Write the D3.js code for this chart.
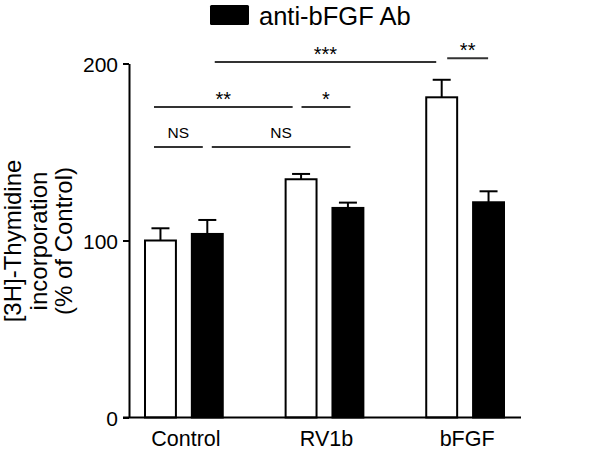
<!DOCTYPE html>
<html>
<head>
<meta charset="utf-8">
<script src="https://cdn.jsdelivr.net/npm/d3@7"></script>
<style>
  html, body { margin: 0; padding: 0; background: #fff; }
  svg { display: block; font-family: "Liberation Sans", Arial, Helvetica, sans-serif; }
</style>
</head>
<body>
<svg id="chart" width="600" height="452"></svg>
<script>
// ---- data ----
const categories = ["Control", "RV1b", "bFGF"];
const seriesNames = ["vehicle", "anti-bFGF Ab"];
const vehicleMean = [100, 134.6, 180.9];
const vehicleErr  = [6.9, 3.0, 9.9];
const antiMean    = [103.7, 118.4, 121.6];
const antiErr     = [7.9, 3.0, 6.2];
const yTicks = [0, 100, 200];
const yLabelLines = ["[3H]-Thymidine", "incorporation", "(% of Control)"];
const legendLabel = "anti-bFGF Ab";
// significance brackets: start/end in group units, level in data units, label
const sigFrom   = [0.064, 0.475, 0.064, 1.113, 0.496, 2.149];
const sigTo     = [0.411, 1.461, 1.050, 1.461, 2.071, 2.440];
const sigLevel  = [152.8, 152.8, 175.4, 175.4, 200.8, 203.0];
const sigLabels = ["NS", "NS", "**", "*", "***", "**"];

// ---- scales ----
const svg = d3.select("#chart");
const y = d3.scaleLinear().domain([0, 200]).range([417.5, 63.5]);
const x = d3.scaleBand().domain(categories).range([145, 504]).paddingInner(0.447).paddingOuter(0);
const xs = d3.scaleBand().domain(seriesNames).range([0, x.bandwidth()]).paddingInner(0.34).paddingOuter(0);
const gpos = d3.scaleLinear().domain([0, 1]).range([x(categories[0]), x(categories[1])]);

const rows = categories.map((c, i) => ({
  cat: c,
  vals: [
    { s: seriesNames[0], m: vehicleMean[i], e: vehicleErr[i] },
    { s: seriesNames[1], m: antiMean[i], e: antiErr[i] }
  ]
}));

// ---- bars & error bars ----
const groups = svg.selectAll("g.grp").data(rows).join("g")
  .attr("class", "grp")
  .attr("transform", d => `translate(${x(d.cat)},0)`);

const capW = 18;
groups.selectAll("line.err").data(d => d.vals).join("line")
  .attr("class", "err")
  .attr("x1", d => xs(d.s) + xs.bandwidth() / 2)
  .attr("x2", d => xs(d.s) + xs.bandwidth() / 2)
  .attr("y1", d => y(d.m))
  .attr("y2", d => y(d.m + d.e))
  .attr("stroke", "#000").attr("stroke-width", 2);
groups.selectAll("line.cap").data(d => d.vals).join("line")
  .attr("class", "cap")
  .attr("x1", d => xs(d.s) + xs.bandwidth() / 2 - capW / 2)
  .attr("x2", d => xs(d.s) + xs.bandwidth() / 2 + capW / 2)
  .attr("y1", d => y(d.m + d.e))
  .attr("y2", d => y(d.m + d.e))
  .attr("stroke", "#000").attr("stroke-width", 2);

groups.selectAll("rect").data(d => d.vals).join("rect")
  .attr("x", d => xs(d.s))
  .attr("width", xs.bandwidth())
  .attr("y", d => y(d.m))
  .attr("height", d => y(0) - y(d.m))
  .attr("fill", d => d.s === seriesNames[0] ? "#fff" : "#000")
  .attr("stroke", "#000").attr("stroke-width", 2);

// ---- axes ----
const yAxis = svg.append("g")
  .attr("transform", "translate(129,0)")
  .call(d3.axisLeft(y).tickValues(yTicks).tickSize(6).tickSizeOuter(0).tickPadding(5));
yAxis.select(".domain").attr("stroke-width", 2);
yAxis.selectAll(".tick line").attr("stroke-width", 2);
yAxis.selectAll("text").attr("font-size", 21).attr("fill", "#000")
  .attr("font-family", "Liberation Sans, Arial, sans-serif").attr("dy", "0.36em");

svg.append("line")
  .attr("x1", 123).attr("x2", 521)
  .attr("y1", y(0)).attr("y2", y(0))
  .attr("stroke", "#000").attr("stroke-width", 2);

svg.selectAll("text.cat").data(categories).join("text")
  .attr("class", "cat")
  .attr("x", d => x(d) + x.bandwidth() / 2 + 2)
  .attr("y", 446)
  .attr("text-anchor", "middle")
  .attr("font-size", 21.5)
  .text(d => d);

// y label
const yl = svg.append("text")
  .attr("transform", "translate(0,241) rotate(-90)")
  .attr("text-anchor", "middle")
  .attr("font-size", 24);
yl.selectAll("tspan").data(yLabelLines).join("tspan")
  .attr("x", 0)
  .attr("y", (d, i) => 21 + i * 25.5)
  .text(d => d);

// ---- significance ----
svg.selectAll("line.sig").data(sigLabels).join("line")
  .attr("class", "sig")
  .attr("x1", (d, i) => gpos(sigFrom[i]))
  .attr("x2", (d, i) => gpos(sigTo[i]))
  .attr("y1", (d, i) => y(sigLevel[i]))
  .attr("y2", (d, i) => y(sigLevel[i]))
  .attr("stroke", "#333").attr("stroke-width", 2);

svg.selectAll("text.sig").data(sigLabels).join("text")
  .attr("class", "sig")
  .attr("x", (d, i) => (gpos(sigFrom[i]) + gpos(sigTo[i])) / 2)
  .attr("y", (d, i) => y(sigLevel[i]) + (d === "NS" ? -9 : -1))
  .attr("text-anchor", "middle")
  .attr("font-size", d => d === "NS" ? 15.5 : 20)
  .text(d => d);

// ---- legend ----
svg.append("rect")
  .attr("x", 210).attr("y", 5).attr("width", 39).attr("height", 20)
  .attr("rx", 1.5)
  .attr("fill", "#000");
svg.append("text")
  .attr("x", 259).attr("y", 25)
  .attr("font-size", 25.5)
  .text(legendLabel);
</script>
</body>
</html>
